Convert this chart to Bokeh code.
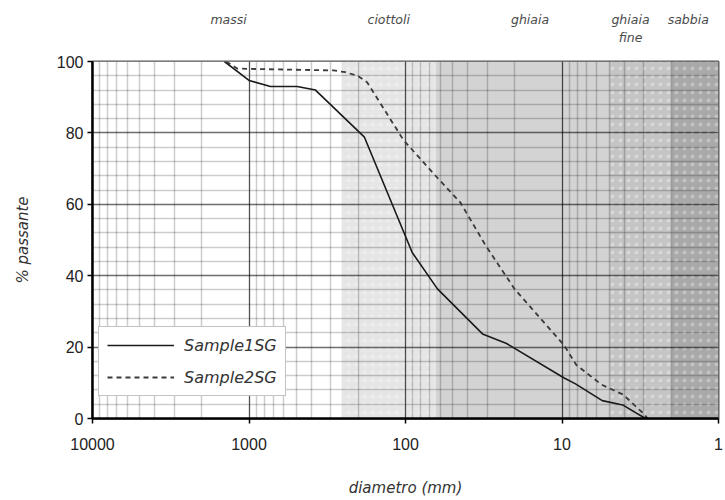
from bokeh.plotting import figure
from bokeh.models import (Range1d, LogTicker, SingleIntervalTicker, FixedTicker, Legend,
                          LegendItem, LogAxis, ColumnDataSource)
from bokeh.embed import file_html
from bokeh.resources import INLINE

# ---- data ----
sample1_d = [1435, 1000, 729, 492, 376, 183, 90.6, 62.5, 32.2, 22.6, 9.75, 8.2, 5.53, 4.1, 2.93]
sample1_p = [100, 94.7, 93.0, 93.0, 92.0, 78.8, 46.5, 36.3, 23.7, 21.0, 11.4, 9.7, 5.0, 3.8, 0]

sample2_d = [1400, 1184, 288, 242, 203, 176, 103, 64.3, 44.6, 30.8, 20.1, 9.7, 8.1, 5.6, 4.07, 3.0, 2.84]
sample2_p = [100, 98.0, 97.5, 97.0, 96.0, 94.2, 78.0, 68.0, 60.5, 48.5, 36.3, 20.5, 15.0, 9.5, 6.7, 1.3, 0]

band_names = ["massi", "ciottoli", "ghiaia", "ghiaia fine", "sabbia"]
band_upper = [10000, 256, 64, 5, 2]
band_lower = [256, 64, 5, 2, 1]
band_colors = ["#ffffff", "#e6e6e6", "#d3d3d3", "#c5c5c5", "#a9a9a9"]
band_hatch = ["blank", "dot", "blank", "dot", "dot"]
band_label_x = [1350, 128, 16, 3.65, 1.56]

x_ticks = [10000, 1000, 100, 10, 1]
x_tick_labels = ["10000", "1000", "100", "10", "1"]
y_start, y_end = 0, 100

p = figure(width=725, height=500, x_axis_type="log",
           x_range=Range1d(10000, 1), y_range=Range1d(y_start, y_end),
           output_backend="svg", toolbar_location=None,
           min_border_left=92, min_border_right=7, min_border_top=61, min_border_bottom=82)

p.background_fill_color = "white"
p.border_fill_color = "white"
p.outline_line_color = "#555555"
p.outline_line_width = 2

# bands
src = ColumnDataSource(dict(left=band_upper, right=band_lower,
                            top=[y_end] * len(band_names), bottom=[y_start] * len(band_names),
                            color=band_colors, hatch=band_hatch))
p.quad(left="left", right="right", top="top", bottom="bottom", source=src,
       fill_color="color", line_color=None, hatch_pattern="hatch",
       hatch_color="white", hatch_alpha=0.3, hatch_scale=8, hatch_weight=1,
       level="image")

# grids
p.xaxis.ticker = LogTicker(desired_num_ticks=5, num_minor_ticks=10)
p.xgrid.grid_line_color = "black"
p.xgrid.grid_line_alpha = 0.6
p.xgrid.grid_line_width = 1.2
p.xgrid.minor_grid_line_color = "black"
p.xgrid.minor_grid_line_alpha = 0.2
p.xgrid.minor_grid_line_width = 1.5

p.yaxis.ticker = SingleIntervalTicker(interval=20, num_minor_ticks=5)
p.ygrid.grid_line_color = "black"
p.ygrid.grid_line_alpha = 0.45
p.ygrid.grid_line_width = 1.5
p.ygrid.minor_grid_line_color = "black"
p.ygrid.minor_grid_line_alpha = 0.2
p.ygrid.minor_grid_line_width = 1.5

# axes
p.xaxis.major_label_overrides = {t: l for t, l in zip(x_ticks, x_tick_labels)}
for ax in (p.xaxis, p.yaxis):
    ax.axis_line_color = "black"
    ax.axis_line_width = 2.5
    ax.major_tick_line_color = "black"
    ax.major_tick_line_width = 1.5
    ax.major_tick_in = 0
    ax.major_tick_out = 5
    ax.minor_tick_line_color = None
    ax.major_label_text_font = "Liberation Sans"
    ax.major_label_text_font_size = "16px"
    ax.major_label_text_color = "#222222"
    ax.axis_label_text_font = "DejaVu Sans"
    ax.axis_label_text_font_style = "italic"
    ax.axis_label_text_font_size = "15px"
    ax.axis_label_text_color = "#333333"

p.xaxis.axis_label = "diametro (mm)"
p.yaxis.axis_label = "% passante"
p.xaxis.major_label_standoff = 14
p.yaxis.major_label_standoff = 4
p.xaxis.axis_label_standoff = 26
p.yaxis.axis_label_standoff = 22

# lines
r1 = p.line(sample1_d, sample1_p, line_color="#1a1a1a", line_width=1.6)
r2 = p.line(sample2_d, sample2_p, line_color="#3a3a3a", line_width=1.8, line_dash="5 4")

legend = Legend(items=[LegendItem(label="Sample1SG", renderers=[r1]),
                       LegendItem(label="Sample2SG", renderers=[r2])],
                location=(6, 22), glyph_width=67, glyph_height=20, label_height=20,
                spacing=12, padding=8, label_standoff=10,
                border_line_color="#888888", border_line_width=1.5,
                background_fill_color="white", background_fill_alpha=1,
                label_text_font="DejaVu Sans", label_text_font_style="italic",
                label_text_font_size="16px", label_text_color="#333333")
p.add_layout(legend)

# band labels above the plot, drawn as tick labels of two extra top axes
first_words = {x: n.split(" ")[0] for x, n in zip(band_label_x, band_names)}
second_words = {x: n.split(" ")[1] for x, n in zip(band_label_x, band_names) if " " in n}


def band_axis(labels, standoff):
    ax = LogAxis(ticker=FixedTicker(ticks=list(labels.keys())),
                 major_label_overrides=labels)
    ax.axis_line_color = None
    ax.major_tick_line_color = None
    ax.minor_tick_line_color = None
    ax.major_tick_in = 0
    ax.major_tick_out = 0
    ax.major_label_standoff = standoff
    ax.major_label_text_font = "DejaVu Sans"
    ax.major_label_text_font_style = "italic"
    ax.major_label_text_font_size = "12.5px"
    ax.major_label_text_color = "#4a4a4a"
    return ax


p.add_layout(band_axis(second_words, 17), "above")
p.add_layout(band_axis(first_words, 0), "above")

open("out.html", "w").write(file_html(p, INLINE))
